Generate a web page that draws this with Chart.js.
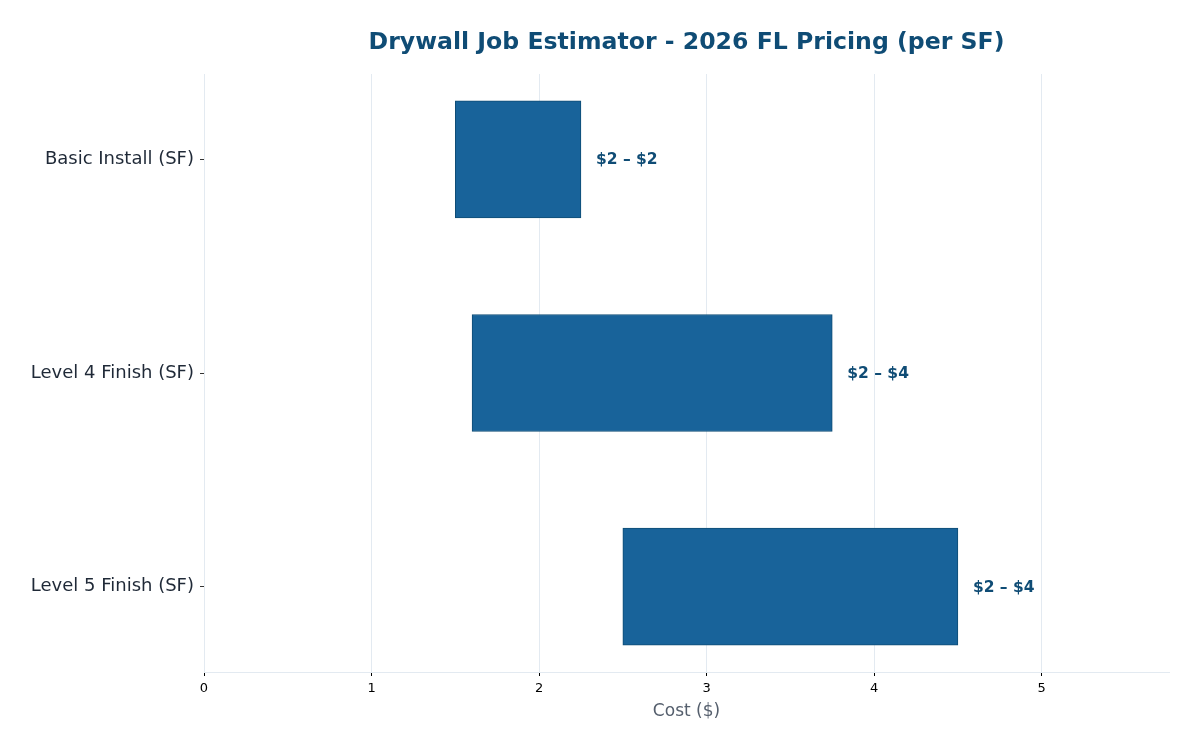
<!DOCTYPE html>
<html>
<head>
<meta charset="utf-8">
<script src="https://cdn.jsdelivr.net/npm/chart.js@4.4.1/dist/chart.umd.min.js"></script>
<style>
  body { margin: 0; background: #fff; }
</style>
</head>
<body>
<canvas id="myChart" width="1200" height="750"></canvas>
<script>
// Chart data
const categories = ['Basic Install (SF)', 'Level 4 Finish (SF)', 'Level 5 Finish (SF)'];
const lowCost = [1.5, 1.6, 2.5];
const highCost = [2.25, 3.75, 4.5];
const rangeLabels = ['$2 – $2', '$2 – $4', '$2 – $4'];
const xTicks = [0, 1, 2, 3, 4, 5];

const titleText = 'Drywall Job Estimator - 2026 FL Pricing (per SF)';
const font = 'DejaVu Sans';
const gridColor = '#e3eaf1';

Chart.defaults.font.family = font;

// Draws the title and the range labels next to bars
const overlayPlugin = {
    id: 'overlay',
    afterDatasetsDraw(chart) {
        const ctx = chart.ctx;
        const area = chart.chartArea;
        ctx.save();
        ctx.fillStyle = '#0f4c75';
        ctx.font = 'bold 23.6px "' + font + '"';
        ctx.textAlign = 'center';
        ctx.textBaseline = 'middle';
        ctx.fillText(titleText, (area.left + area.right) / 2, 43);

        ctx.font = 'bold 15.5px "' + font + '"';
        ctx.textAlign = 'left';
        const meta = chart.getDatasetMeta(0);
        meta.data.forEach((bar, i) => {
            const xEnd = chart.scales.x.getPixelForValue(highCost[i]);
            ctx.fillText(rangeLabels[i], xEnd + 15, bar.y + 1);
        });
        ctx.restore();
    }
};

const ctx = document.getElementById('myChart').getContext('2d');
const myChart = new Chart(ctx, {
    type: 'bar',
    data: {
        datasets: [{
            data: categories.map((c, i) => ({ x: [lowCost[i], highCost[i]], y: i })),
            backgroundColor: '#18639a',
            borderColor: '#0f4c75',
            borderWidth: 1,
            borderSkipped: false,
            barThickness: 117
        }]
    },
    options: {
        indexAxis: 'y',
        responsive: false,
        animation: false,
        layout: { padding: { top: 74, right: 31, left: 0, bottom: 28 } },
        plugins: {
            legend: { display: false },
            tooltip: { enabled: false }
        },
        scales: {
            x: {
                type: 'linear',
                min: 0,
                max: 5.76,
                afterBuildTicks: axis => { axis.ticks = xTicks.map(v => ({ value: v })); },
                afterFit: axis => { axis.height = 50; },
                ticks: { color: '#000', font: { size: 13 }, padding: 5, maxRotation: 0 },
                grid: { color: gridColor, tickColor: '#000', tickLength: 4, lineWidth: 1 },
                border: { display: true, color: gridColor },
                title: { display: true, text: 'Cost ($)', color: '#555f6d', font: { size: 17 }, padding: 0 }
            },
            y: {
                type: 'linear',
                min: -0.4,
                max: 2.4,
                reverse: true,
                offset: false,
                afterBuildTicks: axis => { axis.ticks = categories.map((c, i) => ({ value: i })); },
                afterFit: axis => { axis.width = 204; },
                ticks: {
                    color: '#1f2937',
                    font: { size: 18 },
                    padding: 6,
                    callback: v => categories[v]
                },
                grid: { offset: false, drawOnChartArea: false, tickColor: '#333', tickLength: 4 },
                border: { display: false }
            }
        }
    },
    plugins: [overlayPlugin]
});
</script>
</body>
</html>
